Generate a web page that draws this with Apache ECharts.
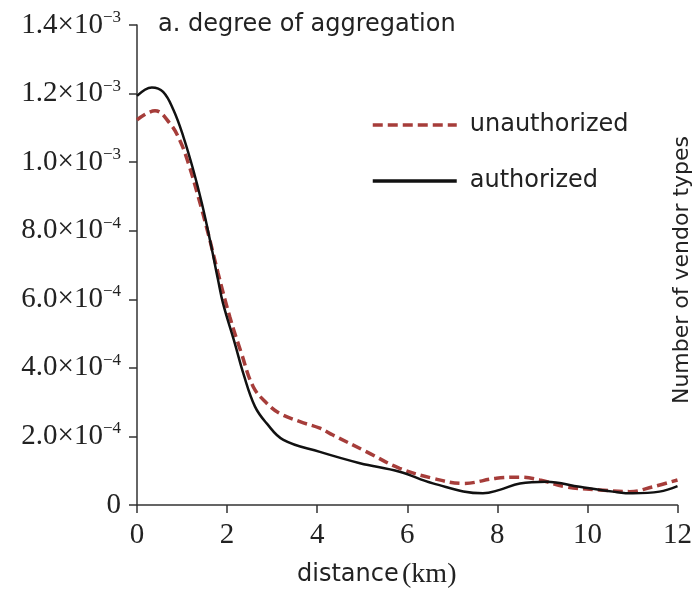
<!DOCTYPE html>
<html>
<head>
<meta charset="utf-8">
<script src="https://cdn.jsdelivr.net/npm/echarts@6/dist/echarts.min.js"></script>
<style>
  html, body { margin: 0; padding: 0; background: #fff; }
  #chart { width: 695px; height: 592px; }
</style>
</head>
<body>
<div id="chart"></div>
<script>
// distance (km), density
const authorized = [
  [0, 1.193e-3], [0.33, 1.218e-3], [0.58, 1.205e-3], [0.81, 1.152e-3], [1.03, 1.074e-3],
  [1.25, 0.977e-3], [1.44, 0.880e-3], [1.62, 0.773e-3], [1.80, 0.656e-3], [1.91, 0.588e-3],
  [2.17, 0.472e-3], [2.36, 0.384e-3], [2.62, 0.287e-3], [2.88, 0.238e-3], [3.25, 0.190e-3],
  [4.06, 0.155e-3], [4.95, 0.122e-3], [5.83, 0.097e-3], [6.57, 0.063e-3], [7.68, 0.034e-3],
  [8.05, 0.044e-3], [8.50, 0.063e-3], [9.09, 0.068e-3], [9.83, 0.053e-3], [10.57, 0.039e-3],
  [11.01, 0.034e-3], [11.60, 0.039e-3], [12, 0.055e-3]
]
const unauthorized = [
  [0, 1.123e-3], [0.40, 1.150e-3], [0.73, 1.113e-3], [0.95, 1.064e-3], [1.14, 0.997e-3],
  [1.36, 0.899e-3], [1.58, 0.792e-3], [1.80, 0.676e-3], [2.06, 0.549e-3], [2.32, 0.442e-3],
  [2.58, 0.345e-3], [2.88, 0.297e-3], [3.17, 0.267e-3], [3.62, 0.243e-3], [4.06, 0.224e-3],
  [4.35, 0.204e-3], [5.10, 0.155e-3], [5.83, 0.107e-3], [6.57, 0.078e-3], [7.24, 0.063e-3],
  [7.98, 0.078e-3], [8.50, 0.081e-3], [8.94, 0.073e-3], [9.53, 0.053e-3], [10.27, 0.044e-3],
  [10.94, 0.039e-3], [11.45, 0.053e-3], [12, 0.073e-3]
]
const xTicks = [0, 2, 4, 6, 8, 10, 12]

const serif = '"Liberation Serif", "DejaVu Serif", serif'
const sans = '"DejaVu Sans", "Noto Sans", sans-serif'

function sciLabel(v) {
  if (v === 0) return '{m|0}'
  const exp = Math.floor(Math.log10(v) + 1e-9)
  const mant = (v / Math.pow(10, exp)).toFixed(1)
  return '{m|' + mant + '×10}{e|−' + (-exp) + '}'
}

let myChart = echarts.init(document.getElementById('chart'))
myChart.setOption({
  animation: false,
  grid: { left: 137, right: 17, top: 25, bottom: 87 },
  legend: {
    orient: 'vertical',
    left: 366,
    top: 108,
    itemWidth: 84,
    itemHeight: 14,
    itemGap: 32,
    itemStyle: { opacity: 0 },
    lineStyle: { width: 3.5 },
    textStyle: { fontFamily: sans, fontSize: 24, color: '#222', padding: [0, 0, 0, 8] },
    data: ['unauthorized', 'authorized']
  },
  xAxis: {
    type: 'value',
    min: 0,
    max: 12,
    interval: 2,
    axisLine: { onZero: false, lineStyle: { color: '#333', width: 1.5 } },
    axisTick: { show: true, length: 8, lineStyle: { color: '#333', width: 1.5 } },
    axisLabel: {
      margin: 16,
      fontFamily: serif,
      fontSize: 29,
      color: '#222',
      formatter: function (v) { return xTicks.indexOf(v) >= 0 ? String(v) : '' }
    },
    splitLine: { show: false }
  },
  yAxis: {
    type: 'value',
    min: 0,
    max: 0.0014,
    interval: 0.0002,
    axisLine: { show: true, lineStyle: { color: '#333', width: 1.5 } },
    axisTick: { show: true, length: 8, lineStyle: { color: '#333', width: 1.5 } },
    axisLabel: {
      margin: 16,
      formatter: sciLabel,
      rich: {
        m: { fontFamily: serif, fontSize: 29, color: '#222', lineHeight: 32 },
        e: { fontFamily: serif, fontSize: 17, color: '#222', lineHeight: 32, verticalAlign: 'top', padding: [0, 0, 14, 0] }
      }
    },
    splitLine: { show: false }
  },
  graphic: [
    {
      type: 'text',
      left: 158,
      top: 13,
      style: { text: 'a. degree of aggregation', fontFamily: sans, fontSize: 24, fill: '#222' }
    },
    {
      type: 'text',
      left: 297,
      top: 561,
      style: {
        text: '{a|distance} {b|(km)}',
        rich: {
          a: { fontFamily: sans, fontSize: 24, fill: '#222' },
          b: { fontFamily: serif, fontSize: 28, fill: '#222' }
        }
      }
    },
    {
      type: 'text',
      x: 682,
      y: 270,
      rotation: Math.PI / 2,
      style: {
        text: 'Number of vendor types',
        fontFamily: sans,
        fontSize: 22,
        fill: '#222',
        align: 'center',
        verticalAlign: 'middle'
      }
    }
  ],
  series: [
    {
      name: 'unauthorized',
      type: 'line',
      data: unauthorized,
      smooth: 0.4,
      symbol: 'none',
      color: '#a63d3a',
      lineStyle: { color: '#a63d3a', width: 3.5, type: [10, 5] },
      z: 2
    },
    {
      name: 'authorized',
      type: 'line',
      data: authorized,
      smooth: 0.4,
      symbol: 'none',
      color: '#111',
      lineStyle: { color: '#111', width: 2.5 },
      z: 3
    }
  ]
})
</script>
</body>
</html>
